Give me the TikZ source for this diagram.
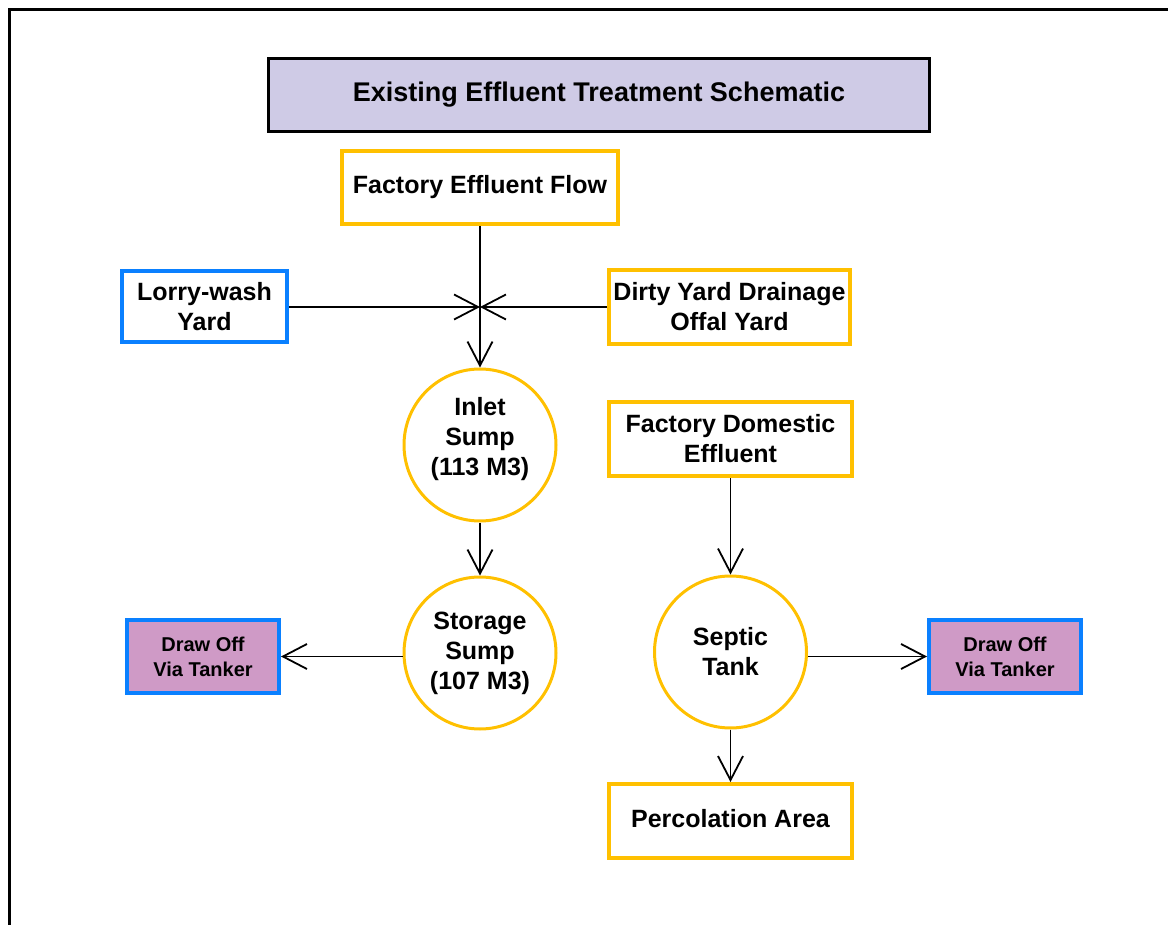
\documentclass[tikz,border=0pt]{standalone}
\usepackage{fontspec}
\setmainfont{Liberation Sans}
\usepackage{tikz}
\usetikzlibrary{
  arrows.meta,
  positioning
}
\definecolor{effOrange}{HTML}{FFC000}
\definecolor{effBlue}{HTML}{0A80FF}
\definecolor{effTitle}{HTML}{CFCBE6}
\definecolor{effTanker}{HTML}{CF9AC6}
\tikzset{
  effBox/.style={
    draw=effOrange,
    line width=4pt,
    align=center,
    inner sep=0pt,
    font=\fontsize{25}{30}\selectfont\bfseries
  },
  yardBox/.style={effBox, draw=effBlue},
  tankerBox/.style={
    draw=effBlue,
    line width=4pt,
    fill=effTanker,
    align=center,
    inner sep=0pt,
    minimum width=152pt,
    minimum height=73pt,
    font=\fontsize{20}{25}\selectfont\bfseries
  },
  sumpCircle/.style={
    circle,
    draw=effOrange,
    line width=3pt,
    minimum size=152pt,
    inner sep=0pt,
    align=center,
    font=\fontsize{25}{30}\selectfont\bfseries
  },
  titleBox/.style={
    draw=black,
    line width=3pt,
    fill=effTitle,
    inner sep=0pt,
    font=\fontsize{27}{32}\selectfont\bfseries
  },
  flowArrow/.style={-{Straight Barb[length=24pt,width=25pt]}, line width=1.8pt, black}
}
\begin{document}
\begin{tikzpicture}[x=1pt,y=-1pt]
  \useasboundingbox (0,0) rectangle (1168,925);
  % page frame
  \draw[line width=3pt] (9,925) -- (9,10) -- (1168,10);

  \node[titleBox, minimum width=661pt, minimum height=73pt] (title) at (599,95)
    {Existing Effluent Treatment Schematic};

  \node[effBox, minimum width=276pt, minimum height=73pt] (flow) at (480,187.5)
    {Factory Effluent Flow};
  \node[yardBox, minimum width=165pt, minimum height=71pt] (lorry) at (204.5,307)
    {Lorry-wash\\Yard};
  \node[effBox, minimum width=241pt, minimum height=74pt] (dirty) at (729.5,307)
    {Dirty Yard Drainage\\Offal Yard};
  \coordinate (jn) at (480,307);

  \node[sumpCircle] (inlet) at (480,445) {Inlet\\Sump\\(113 M3)\\[-12pt]\mbox{}};
  \node[sumpCircle] (storage) at (480,653) {Storage\\Sump\\(107 M3)};
  \node[tankerBox] (drawL) at (203,656.5) {Draw Off\\Via Tanker};

  \node[effBox, minimum width=243pt, minimum height=74pt] (domestic) at (730.5,439)
    {Factory Domestic\\Effluent};
  \node[sumpCircle] (septic) at (730.5,652) {Septic\\Tank};
  \node[tankerBox] (drawR) at (1005,656.5) {Draw Off\\Via Tanker};
  \node[effBox, minimum width=243pt, minimum height=74pt] (perc) at (730.5,821)
    {Percolation Area\\[-24pt]\mbox{}};

  % connectors
  \draw[flowArrow] (lorry.east) -- (jn);
  \draw[flowArrow] (dirty.west) -- (jn);
  \draw[flowArrow] (flow.south) -- (inlet.north);
  \draw[flowArrow] (inlet.south) -- (storage.north);
  \draw[flowArrow] (storage.west |- drawL.east) -- (drawL.east);
  \draw[flowArrow] (domestic.south) -- (septic.north);
  \draw[flowArrow] (septic.east |- drawR.west) -- (drawR.west);
  \draw[flowArrow] (septic.south) -- (perc.north);
\end{tikzpicture}
\end{document}
